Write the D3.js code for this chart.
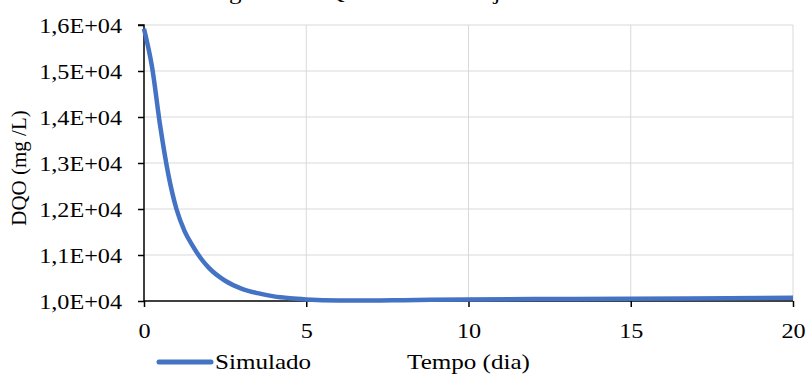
<!DOCTYPE html>
<html>
<head>
<meta charset="utf-8">
<script src="https://cdn.jsdelivr.net/npm/d3@7"></script>
<style>
  body { margin: 0; background: #fff; }
</style>
</head>
<body>
<div id="chart"></div>
<script>
// data
const tempo = [0, 0.25, 0.5, 0.75, 1, 1.25, 1.5, 1.75, 2, 2.5, 3, 3.5, 4, 4.5, 5, 6, 7, 8, 10, 12, 15, 18, 20];
const dqo = [15920, 15080, 13800, 12750, 12000, 11520, 11200, 10930, 10720, 10440, 10270, 10170, 10100, 10060, 10035, 10012, 10010, 10018, 10035, 10042, 10050, 10062, 10070];
const xTicks = [0, 5, 10, 15, 20];
const yTicks = [10000, 11000, 12000, 13000, 14000, 15000, 16000];
const titulo = 'Modelagem da DQO no reator e ajuste';

const W = 808, H = 374;
const m = { left: 144, right: 15, top: 25, bottom: 73 };
const FONT = "'Liberation Serif'";
const SX = 1.1; // the original text is a bit stretched sideways

const svg = d3.select('#chart').append('svg')
  .attr('width', W)
  .attr('height', H);

const x = d3.scaleLinear().domain([0, 20]).range([m.left, W - m.right]);
const y = d3.scaleLinear().domain([10000, 16000]).range([H - m.bottom, m.top]);

// grid
svg.append('g').selectAll('line')
  .data(yTicks.slice(1))
  .enter().append('line')
  .attr('x1', m.left).attr('x2', W - m.right)
  .attr('y1', d => y(d)).attr('y2', d => y(d))
  .attr('stroke', '#d9d9d9').attr('stroke-width', 1);

svg.append('g').selectAll('line')
  .data(xTicks.slice(1))
  .enter().append('line')
  .attr('x1', d => x(d)).attr('x2', d => x(d))
  .attr('y1', m.top).attr('y2', H - m.bottom)
  .attr('stroke', '#d9d9d9').attr('stroke-width', 1);

// axes
const fmt = d => (d / 10000).toFixed(1).replace('.', ',') + 'E+04';

const yAxis = svg.append('g')
  .attr('transform', `translate(${m.left},0)`)
  .call(d3.axisLeft(y).tickValues(yTicks).tickFormat(fmt).tickSize(6).tickPadding(16));

const xAxis = svg.append('g')
  .attr('transform', `translate(0,${H - m.bottom})`)
  .call(d3.axisBottom(x).tickValues(xTicks).tickSize(6).tickPadding(16));

[yAxis, xAxis].forEach(a => {
  a.select('.domain').attr('stroke', '#000').attr('stroke-width', 1.5);
  a.selectAll('.tick line').attr('stroke', '#000').attr('stroke-width', 1.5);
  a.selectAll('.tick text')
    .attr('fill', '#000')
    .style('font-family', FONT)
    .style('font-size', '22px');
});
yAxis.select('.domain').attr('d', `M-6,${y(16000)}H0V${y(10000)}`);
xAxis.select('.domain').attr('d', `M${x(0)},0H${x(20)}`);
yAxis.selectAll('.tick text').attr('x', -22 / SX).attr('transform', `scale(${SX},1)`);
xAxis.selectAll('.tick text').attr('dy', null).attr('y', 37).attr('transform', `scale(${SX},1)`);

// series
const line = d3.line()
  .x((d, i) => x(tempo[i]))
  .y(d => y(d))
  .curve(d3.curveMonotoneX);

svg.append('path')
  .datum(dqo)
  .attr('d', line)
  .attr('fill', 'none')
  .attr('stroke', '#4472C4')
  .attr('stroke-width', 4.5)
  .attr('stroke-linejoin', 'round');

function label(px, py, txt, anchor, sx) {
  return svg.append('text')
    .attr('transform', `translate(${px},${py}) scale(${sx},1)`)
    .attr('text-anchor', anchor)
    .style('font-family', FONT)
    .style('font-size', '22px')
    .text(txt);
}

// axis titles
svg.append('text')
  .attr('transform', `translate(26,${(m.top + H - m.bottom) / 2 + 5}) rotate(-90)`)
  .attr('text-anchor', 'middle')
  .style('font-family', FONT)
  .style('font-size', '21px')
  .text('DQO (mg /L)');

label((m.left + W - m.right) / 2, 369, 'Tempo (dia)', 'middle', 1.14);

// legend
svg.append('line')
  .attr('x1', 159).attr('x2', 211)
  .attr('y1', 362).attr('y2', 362)
  .attr('stroke', '#4472C4')
  .attr('stroke-width', 5)
  .attr('stroke-linecap', 'round');

label(215, 369, 'Simulado', 'start', 1.14);

// title, cut by the top edge as in the original
const t = label(0, -1, titulo, 'start', 1.14);
const gOff = t.node().getSubStringLength(0, titulo.indexOf('g')) * 1.14;
t.attr('transform', `translate(${229 - gOff},-1) scale(1.14,1)`);
</script>
</body>
</html>
